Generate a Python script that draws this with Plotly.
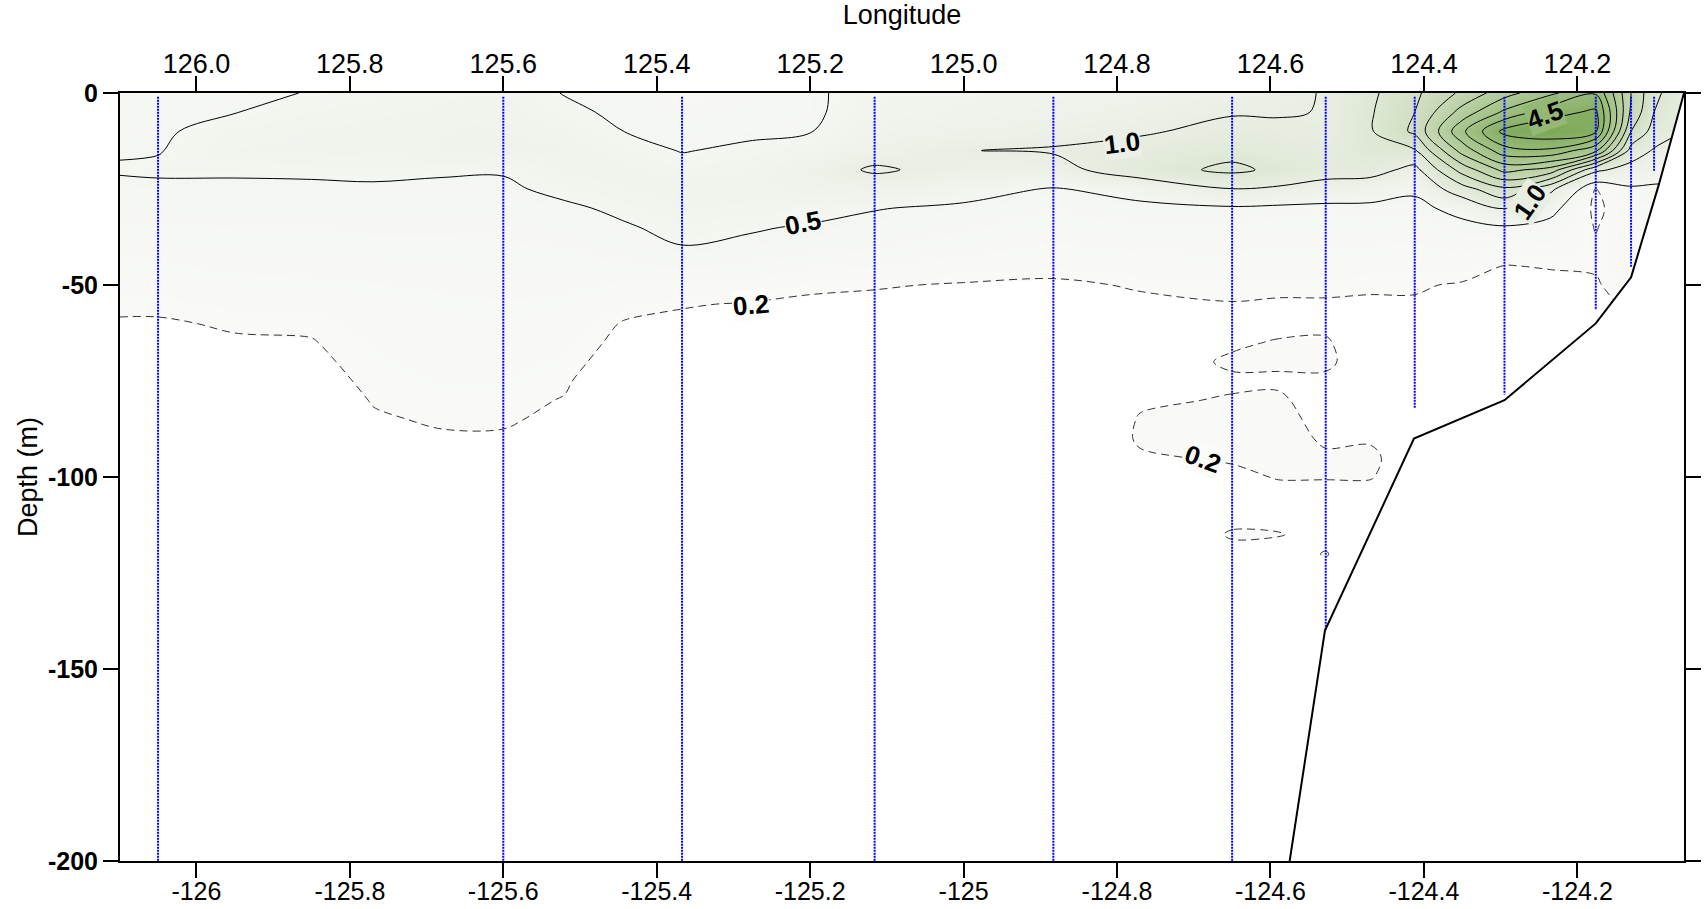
import numpy as np
import plotly.graph_objects as go

# ---- section grid: longitude columns and sample depths (m) ----
column_lon = [-126.10, -126.05, -125.95, -125.85, -125.77, -125.68, -125.60,
              -125.52, -125.44, -125.367, -125.28, -125.20, -125.116, -125.00,
              -124.883, -124.77, -124.65, -124.59, -124.528, -124.47, -124.412,
              -124.35, -124.295, -124.235, -124.176, -124.13, -124.10, -124.061]
depth_m = [0, 5, 10, 15, 20, 25, 30, 35, 40, 45, 50, 55, 60, 65, 70, 75, 80,
           85, 90, 95, 100, 105, 110, 115, 120, 130, 150, 200]

# chlorophyll profile for each longitude column (top to bottom, one value per depth)
chl_126_100 = [0.42, 0.44, 0.46, 0.48, 0.52, 0.45, 0.42, 0.38, 0.34, 0.30, 0.26, 0.22, 0.19, 0.17, 0.15, 0.13, 0.12, 0.11, 0.10, 0.09, 0.08, 0.08, 0.07, 0.07, 0.06, 0.05, 0.04, 0.03]
chl_126_050 = [0.40, 0.42, 0.47, 0.49, 0.53, 0.46, 0.42, 0.38, 0.34, 0.30, 0.26, 0.22, 0.19, 0.17, 0.15, 0.13, 0.12, 0.11, 0.10, 0.09, 0.08, 0.08, 0.07, 0.07, 0.06, 0.05, 0.04, 0.03]
chl_125_950 = [0.45, 0.495, 0.58, 0.62, 0.53, 0.46, 0.42, 0.39, 0.36, 0.33, 0.29, 0.25, 0.21, 0.19, 0.17, 0.15, 0.13, 0.12, 0.11, 0.10, 0.09, 0.08, 0.07, 0.07, 0.06, 0.05, 0.04, 0.03]
chl_125_850 = [0.51, 0.57, 0.62, 0.63, 0.54, 0.46, 0.42, 0.39, 0.36, 0.33, 0.30, 0.25, 0.215, 0.195, 0.18, 0.16, 0.14, 0.13, 0.12, 0.11, 0.10, 0.09, 0.08, 0.07, 0.07, 0.06, 0.04, 0.03]
chl_125_770 = [0.55, 0.60, 0.64, 0.64, 0.55, 0.47, 0.43, 0.40, 0.37, 0.34, 0.31, 0.28, 0.26, 0.24, 0.23, 0.22, 0.205, 0.19, 0.17, 0.15, 0.13, 0.12, 0.10, 0.09, 0.08, 0.07, 0.05, 0.03]
chl_125_680 = [0.60, 0.63, 0.66, 0.66, 0.52, 0.47, 0.43, 0.40, 0.37, 0.35, 0.32, 0.30, 0.28, 0.26, 0.25, 0.24, 0.22, 0.21, 0.19, 0.17, 0.15, 0.13, 0.12, 0.10, 0.09, 0.07, 0.05, 0.03]
chl_125_600 = [0.62, 0.65, 0.68, 0.68, 0.52, 0.46, 0.43, 0.40, 0.38, 0.36, 0.33, 0.31, 0.29, 0.27, 0.25, 0.24, 0.22, 0.21, 0.19, 0.17, 0.15, 0.13, 0.12, 0.10, 0.09, 0.07, 0.05, 0.03]
chl_125_520 = [0.49, 0.55, 0.62, 0.68, 0.64, 0.56, 0.46, 0.42, 0.39, 0.36, 0.33, 0.30, 0.27, 0.25, 0.23, 0.21, 0.196, 0.18, 0.16, 0.14, 0.12, 0.11, 0.10, 0.09, 0.08, 0.06, 0.05, 0.03]
chl_125_440 = [0.42, 0.45, 0.495, 0.58, 0.64, 0.62, 0.55, 0.48, 0.43, 0.38, 0.30, 0.24, 0.19, 0.17, 0.15, 0.13, 0.12, 0.11, 0.10, 0.09, 0.08, 0.08, 0.07, 0.07, 0.06, 0.05, 0.04, 0.03]
chl_125_367 = [0.38, 0.40, 0.44, 0.49, 0.58, 0.66, 0.62, 0.56, 0.495, 0.40, 0.30, 0.21, 0.17, 0.15, 0.13, 0.12, 0.11, 0.10, 0.09, 0.08, 0.08, 0.07, 0.07, 0.06, 0.06, 0.05, 0.04, 0.03]
chl_125_280 = [0.40, 0.42, 0.46, 0.54, 0.62, 0.64, 0.60, 0.52, 0.46, 0.38, 0.29, 0.19, 0.16, 0.14, 0.13, 0.12, 0.11, 0.10, 0.09, 0.08, 0.08, 0.07, 0.07, 0.06, 0.06, 0.05, 0.04, 0.03]
chl_125_200 = [0.46, 0.46, 0.49, 0.62, 0.78, 0.70, 0.58, 0.48, 0.43, 0.33, 0.22, 0.18, 0.15, 0.14, 0.13, 0.12, 0.11, 0.10, 0.09, 0.08, 0.08, 0.07, 0.07, 0.06, 0.06, 0.05, 0.04, 0.03]
chl_125_116 = [0.60, 0.62, 0.70, 0.80, 1.06, 0.75, 0.51, 0.44, 0.40, 0.32, 0.21, 0.17, 0.15, 0.14, 0.13, 0.12, 0.11, 0.10, 0.09, 0.08, 0.08, 0.07, 0.07, 0.06, 0.06, 0.05, 0.04, 0.03]
chl_125_000 = [0.65, 0.68, 0.78, 0.99, 0.85, 0.60, 0.46, 0.40, 0.35, 0.27, 0.19, 0.16, 0.15, 0.14, 0.13, 0.12, 0.11, 0.10, 0.09, 0.08, 0.08, 0.07, 0.07, 0.06, 0.06, 0.05, 0.04, 0.03]
chl_124_883 = [0.70, 0.74, 0.85, 1.04, 0.82, 0.48, 0.40, 0.35, 0.30, 0.24, 0.18, 0.16, 0.15, 0.14, 0.13, 0.12, 0.11, 0.10, 0.09, 0.08, 0.08, 0.07, 0.07, 0.06, 0.06, 0.05, 0.04, 0.03]
chl_124_770 = [0.75, 0.82, 0.94, 1.18, 1.30, 0.60, 0.44, 0.38, 0.33, 0.27, 0.21, 0.18, 0.17, 0.16, 0.16, 0.17, 0.19, 0.205, 0.21, 0.19, 0.16, 0.13, 0.11, 0.10, 0.09, 0.07, 0.05, 0.03]
chl_124_650 = [0.85, 0.96, 1.15, 1.35, 1.60, 0.99, 0.45, 0.38, 0.33, 0.28, 0.23, 0.195, 0.18, 0.19, 0.21, 0.19, 0.205, 0.22, 0.22, 0.21, 0.18, 0.16, 0.17, 0.21, 0.17, 0.12, 0.08, 0.05]
chl_124_590 = [0.88, 0.96, 1.10, 1.25, 1.40, 0.93, 0.42, 0.36, 0.31, 0.26, 0.22, 0.19, 0.18, 0.205, 0.21, 0.19, 0.21, 0.23, 0.23, 0.22, 0.205, 0.17, 0.17, 0.205, 0.16, 0.11, 0.07, 0.04]
chl_124_528 = [1.03, 1.02, 1.04, 1.15, 1.20, 0.80, 0.40, 0.36, 0.32, 0.27, 0.22, 0.19, 0.19, 0.205, 0.21, 0.19, 0.17, 0.17, 0.19, 0.21, 0.205, 0.17, 0.15, 0.17, 0.205, 0.15, 0.10, 0.05]
chl_124_470 = [1.40, 1.45, 1.45, 1.40, 1.20, 0.70, 0.42, 0.36, 0.31, 0.26, 0.21, 0.19, 0.18, 0.17, 0.17, 0.17, 0.17, 0.18, 0.195, 0.21, 0.205, 0.17, 0.15, 0.14, 0.13, 0.11, 0.08, 0.05]
chl_124_412 = [1.90, 2.00, 2.10, 1.45, 0.85, 0.55, 0.42, 0.35, 0.30, 0.25, 0.21, 0.19, 0.18, 0.17, 0.16, 0.16, 0.16, 0.17, 0.18, 0.17, 0.15, 0.14, 0.13, 0.12, 0.11, 0.10, 0.08, 0.05]
chl_124_350 = [2.60, 3.20, 3.90, 3.20, 2.20, 1.30, 0.60, 0.42, 0.34, 0.25, 0.19, 0.17, 0.16, 0.15, 0.15, 0.14, 0.14, 0.13, 0.12, 0.11, 0.10, 0.10, 0.09, 0.09, 0.08, 0.07, 0.06, 0.04]
chl_124_295 = [3.30, 4.10, 5.15, 4.30, 3.15, 1.90, 1.05, 0.45, 0.30, 0.198, 0.17, 0.16, 0.15, 0.14, 0.14, 0.13, 0.13, 0.12, 0.11, 0.10, 0.10, 0.09, 0.09, 0.08, 0.08, 0.07, 0.06, 0.04]
chl_124_235 = [3.90, 4.80, 5.40, 4.40, 2.80, 1.10, 0.60, 0.40, 0.29, 0.205, 0.18, 0.17, 0.16, 0.15, 0.14, 0.14, 0.13, 0.12, 0.11, 0.10, 0.10, 0.09, 0.09, 0.08, 0.08, 0.07, 0.06, 0.04]
chl_124_176 = [4.45, 5.10, 5.05, 3.60, 1.10, 0.18, 0.15, 0.19, 0.22, 0.21, 0.19, 0.17, 0.16, 0.15, 0.14, 0.14, 0.13, 0.12, 0.11, 0.10, 0.10, 0.09, 0.09, 0.08, 0.08, 0.07, 0.06, 0.04]
chl_124_130 = [2.50, 2.40, 2.00, 1.30, 0.80, 0.45, 0.35, 0.33, 0.30, 0.28, 0.25, 0.22, 0.20, 0.18, 0.16, 0.15, 0.14, 0.13, 0.12, 0.11, 0.10, 0.10, 0.09, 0.09, 0.08, 0.07, 0.06, 0.04]
chl_124_100 = [1.60, 1.50, 1.30, 0.95, 0.65, 0.45, 0.38, 0.33, 0.30, 0.27, 0.24, 0.21, 0.19, 0.17, 0.16, 0.15, 0.14, 0.13, 0.12, 0.11, 0.10, 0.10, 0.09, 0.09, 0.08, 0.07, 0.06, 0.04]
chl_124_061 = [1.20, 1.10, 1.00, 0.80, 0.60, 0.45, 0.38, 0.33, 0.30, 0.27, 0.24, 0.21, 0.19, 0.17, 0.16, 0.15, 0.14, 0.13, 0.12, 0.11, 0.10, 0.10, 0.09, 0.09, 0.08, 0.07, 0.06, 0.04]

# CTD stations: longitude and deepest sample (m)
station_lon = [-126.05, -125.60, -125.367, -125.116, -124.883, -124.65,
               -124.528, -124.412, -124.295, -124.176, -124.13, -124.10]
station_bottom = [200, 200, 200, 200, 200, 200, 140, 82, 78.5, 56.5, 45.5, 20.5]

# seafloor profile
bathy_lon = [-124.575, -124.529, -124.413, -124.295, -124.176, -124.13, -124.094, -124.061]
bathy_depth = [-200, -140, -90, -80, -60, -48, -24, 0]

# axis ticks
lon_ticks = [-126.0, -125.8, -125.6, -125.4, -125.2, -125.0, -124.8, -124.6, -124.4, -124.2]
bottom_labels = ["-126", "-125.8", "-125.6", "-125.4", "-125.2", "-125", "-124.8", "-124.6", "-124.4", "-124.2"]
top_labels = ["126.0", "125.8", "125.6", "125.4", "125.2", "125.0", "124.8", "124.6", "124.4", "124.2"]
depth_ticks = [0, -50, -100, -150, -200]
depth_labels = ["0", "-50", "-100", "-150", "-200"]

# contour labels: text, lon, depth, rotation, backdrop
contour_label_text = ["0.5", "1.0", "0.2", "4.5", "1.0", "0.2"]
contour_label_lon = [-125.21, -124.793, -125.277, -124.242, -124.262, -124.688]
contour_label_depth = [-33.8, -13.0, -55.3, -5.8, -28.4, -95.2]
contour_label_angle = [-11, -7, -5, -20, -55, 20]
contour_label_bg = ["#f4f6f1", "#ebefe6", "#fbfcfa", "#95b875", "#e8eee2", "#fbfcfa"]

# ---------------------------------------------------------------
chl_columns = [chl_126_100, chl_126_050, chl_125_950, chl_125_850, chl_125_770,
               chl_125_680, chl_125_600, chl_125_520, chl_125_440, chl_125_367,
               chl_125_280, chl_125_200, chl_125_116, chl_125_000, chl_124_883,
               chl_124_770, chl_124_650, chl_124_590, chl_124_528, chl_124_470,
               chl_124_412, chl_124_350, chl_124_295, chl_124_235, chl_124_176,
               chl_124_130, chl_124_100, chl_124_061]
z = np.array(chl_columns).T
y = [-d for d in depth_m]

zmax = 5.5
shade_stops = [(0.0, "#ffffff"), (0.199, "#ffffff"), (0.2, "#f9faf7"), (0.5, "#f4f6f1"),
               (1.0, "#e9eee3"), (1.5, "#dde7d3"), (2.0, "#d1dfc3"), (3.0, "#b9d0a4"),
               (4.0, "#a1c185"), (5.0, "#87af64"), (5.5, "#7ba557")]
colorscale = [[v / zmax, c] for v, c in shade_stops]

FONT = "Liberation Sans, Arial, sans-serif"
NARROW = "Liberation Sans Narrow, Arial Narrow, Liberation Sans, Arial, sans-serif"

fig = go.Figure()

fig.add_trace(go.Heatmap(x=column_lon, y=y, z=z, zsmooth="best", zmin=0, zmax=zmax,
                         colorscale=colorscale, showscale=False, hoverinfo="skip"))

fig.add_trace(go.Contour(x=column_lon, y=y, z=z, autocontour=False,
                         contours=dict(start=0.5, end=5.0, size=0.5, coloring="none"),
                         line=dict(color="black", width=1, smoothing=1),
                         showscale=False, hoverinfo="skip"))

fig.add_trace(go.Contour(x=column_lon, y=y, z=z, autocontour=False,
                         contours=dict(start=0.2, end=0.2, size=1, coloring="none"),
                         line=dict(color="#333333", width=1, dash="8px,5px", smoothing=1),
                         showscale=False, hoverinfo="skip"))

# blank out everything below the seafloor
fig.add_trace(go.Scatter(x=bathy_lon + [bathy_lon[-1]], y=bathy_depth + [bathy_depth[0]],
                         fill="toself", fillcolor="white", mode="lines",
                         line=dict(width=0, color="white"), hoverinfo="skip"))

# station sample lines
for lon, bot in zip(station_lon, station_bottom):
    fig.add_trace(go.Scatter(x=[lon, lon], y=[-1, -bot], mode="lines",
                             line=dict(color="#0000ff", width=2, dash="2px,1px"),
                             hoverinfo="skip"))

fig.add_trace(go.Scatter(x=bathy_lon, y=bathy_depth, mode="lines",
                         line=dict(color="black", width=2), hoverinfo="skip"))

# carrier for the top longitude axis
fig.add_trace(go.Scatter(x=[column_lon[0]], y=[0], xaxis="x2", mode="markers",
                         marker=dict(opacity=0), hoverinfo="skip"))

for txt, lx, ly, ang, bg in zip(contour_label_text, contour_label_lon, contour_label_depth,
                                contour_label_angle, contour_label_bg):
    fig.add_annotation(x=lx, y=ly, text=txt, showarrow=False, textangle=ang,
                       font=dict(family=FONT, size=26, color="black", weight="bold"),
                       bgcolor=bg, borderpad=0)

axis_common = dict(showline=True, linecolor="black", linewidth=2, ticks="outside",
                   ticklen=15, tickwidth=2, tickcolor="black", showgrid=False,
                   zeroline=False)

fig.update_layout(
    width=1706, height=909,
    margin=dict(l=120, r=22, t=93, b=48, autoexpand=False),
    paper_bgcolor="white", plot_bgcolor="white",
    showlegend=False,
    xaxis=dict(range=[-126.0996, -124.061], tickmode="array", tickvals=lon_ticks,
               ticktext=bottom_labels, ticklabelstandoff=-8,
               tickfont=dict(family=FONT, size=25, color="black"),
               **axis_common),
    xaxis2=dict(overlaying="x", side="top", matches="x", tickmode="array",
                tickvals=lon_ticks, ticktext=top_labels, ticklabelstandoff=-8,
                tickfont=dict(family=FONT, size=27, color="black"),
                title=dict(text="Longitude", font=dict(family=FONT, size=27, color="black"),
                           standoff=18),
                **axis_common),
    yaxis=dict(range=[-200, 0], tickmode="array", tickvals=depth_ticks, ticktext=depth_labels,
               tickfont=dict(family=NARROW, size=25, color="black", weight="bold"),
               mirror="ticks",
               title=dict(text="Depth (m)", font=dict(family=FONT, size=27, color="black"),
                          standoff=3),
               **axis_common),
)

fig.write_html("out.html")
